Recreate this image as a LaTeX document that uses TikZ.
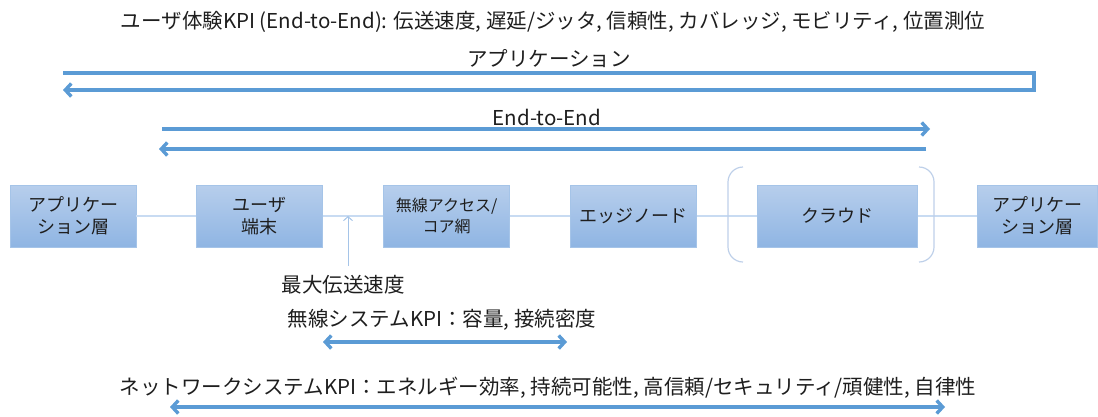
\documentclass[tikz,border=0pt]{standalone}
\usepackage{fontspec}
\newfontfamily\jpfont{Noto Sans CJK JP}
\usetikzlibrary{arrows.meta, positioning}
\definecolor{arrowblue}{RGB}{91,155,213}
\definecolor{boxtop}{RGB}{183,206,236}
\definecolor{boxbot}{RGB}{143,181,227}
\definecolor{boxedge}{RGB}{165,196,232}
\definecolor{linkblue}{RGB}{200,219,242}
\definecolor{bracegray}{RGB}{190,208,233}
\definecolor{textdark}{RGB}{30,30,30}

\begin{document}
\begin{tikzpicture}[
    x=1pt, y=-1pt,
    node distance=60pt,
    blockbox/.style={rectangle, draw=boxedge, line width=0.8pt, top color=boxtop, bottom color=boxbot, minimum width=126pt, minimum height=62pt, inner sep=2pt, align=center, font=\jpfont\fontsize{18}{22}\selectfont, text=textdark},
    label/.style={font=\jpfont\fontsize{20.5}{24}\selectfont, text=textdark, inner sep=0pt},
    arr/.style={-{Straight Barb[length=6pt, width=13pt]}, line width=3.4pt, draw=arrowblue},
    twoarr/.style={{Straight Barb[length=6pt, width=13pt]}-{Straight Barb[length=6pt, width=13pt]}, line width=3.4pt, draw=arrowblue},
    link/.style={line width=2.5pt, draw=linkblue},
    brace/.style={line width=1.2pt, draw=bracegray, rounded corners=15pt},
]
\useasboundingbox (0,0) rectangle (1098,416);

% Row of blocks
\node[blockbox] (apL) at (73,216) {アプリケー\\ション層};
\node[blockbox, right=of apL] (ue) {ユーザ\\端末};
\node[blockbox, right=of ue, font=\jpfont\fontsize{16}{21}\selectfont] (ran) {無線アクセス/\\コア網};
\node[blockbox, right=of ran] (edge) {エッジノード};
\node[blockbox, right=of edge, minimum width=160pt] (cloud) {クラウド};
\node[blockbox, right=59pt of cloud, minimum width=120pt] (apR) {アプリケー\\ション層};

% Links
\draw[link] (apL) -- (ue);
\draw[link] (ue) -- (ran);
\draw[link] (ran) -- (edge);
\draw[link] (edge) -- (cloud);
\draw[link] (cloud) -- (apR);

% Cloud brackets
\draw[brace] (743,167) -- (728,167) -- (728,262) -- (743,262);
\draw[brace] (919,167) -- (934,167) -- (934,262) -- (919,262);

% Labels
\node[label] (ux) at (553,22) {ユーザ体験KPI (End-to-End): 伝送速度, 遅延/ジッタ, 信頼性, カバレッジ, モビリティ, 位置測位};
\node[label] (app) at (549,59) {アプリケーション};
\node[label] (e2e) at (547,117) {End-to-End};
\node[label] (peak) at (343,285) {最大伝送速度};
\node[label] (radio) at (442,320) {無線システムKPI：容量, 接続密度};
\node[label] (net) at (548,388) {ネットワークシステムKPI：エネルギー効率, 持続可能性, 高信頼/セキュリティ/頑健性, 自律性};

% Arrows
\coordinate (a1) at (63,73);
\coordinate (a2) at (1034,73);
\coordinate (a3) at (1034,90);
\coordinate (a4) at (63,90);
\draw[arr] (a1) -- (a2) -- (a3) -- (a4);
\coordinate (e1) at (162,129);
\coordinate (e2) at (930,129);
\coordinate (e3) at (926,149);
\coordinate (e4) at (159,149);
\draw[arr] (e1) -- (e2);
\draw[arr] (e3) -- (e4);
\coordinate (w1) at (323,342);
\coordinate (w2) at (567,342);
\draw[twoarr] (w1) -- (w2);
\coordinate (n1) at (170,407);
\coordinate (n2) at (945,407);
\draw[twoarr] (n1) -- (n2);
\coordinate (pk) at (348,266);
\draw[-{Straight Barb[length=4pt, width=9pt]}, line width=1pt, draw=boxedge] (pk) -- (ue -| pk);
\end{tikzpicture}
\end{document}
